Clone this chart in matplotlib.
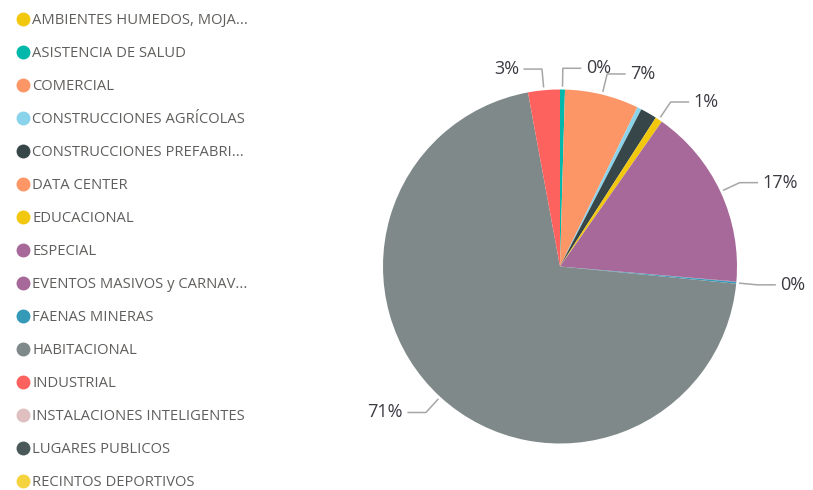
import numpy as np
import matplotlib
matplotlib.use("Agg")
import matplotlib.pyplot as plt
from matplotlib.lines import Line2D

plt.rcParams['font.family'] = ['Open Sans', 'DejaVu Sans']

# categories shown in the legend (alphabetical, as in the report)
categories = [
    "AMBIENTES HUMEDOS, MOJA...",
    "ASISTENCIA DE SALUD",
    "COMERCIAL",
    "CONSTRUCCIONES AGRÍCOLAS",
    "CONSTRUCCIONES PREFABRI...",
    "DATA CENTER",
    "EDUCACIONAL",
    "ESPECIAL",
    "EVENTOS MASIVOS y CARNAV...",
    "FAENAS MINERAS",
    "HABITACIONAL",
    "INDUSTRIAL",
    "INSTALACIONES INTELIGENTES",
    "LUGARES PUBLICOS",
    "RECINTOS DEPORTIVOS",
]
# share of projects per category, in percent
shares = [0.0, 0.45, 6.75, 0.4, 1.5, 0.0, 0.65, 16.6, 0.05, 0.15, 70.55, 2.9, 0.0, 0.0, 0.0]
# which slices get a data label
show_label = [False, True, True, False, False, False, True, True, False, True, True, True, False, False, False]
colors = [
    "#F2C80F", "#01B8AA", "#FD9666", "#8AD4EB", "#374649",
    "#FE9666", "#F2C80F", "#A66999", "#A66999", "#3599B8",
    "#7F898A", "#FD625E", "#DFBFBF", "#4A5859", "#F5D33F",
]

W, H = 813, 490
fig = plt.figure(figsize=(W / 100, H / 100), dpi=100)

# pie placed by its centre and radius in pixels
cx, cy, r = 560, 266.5, 177
lim = 1.4
side = 2 * lim * r
ax = fig.add_axes([(cx - side / 2) / W, (H - cy - side / 2) / H, side / W, side / H])

wedges, _ = ax.pie(shares, colors=colors, startangle=90, counterclock=False,
                   wedgeprops=dict(linewidth=0))
ax.set_xlim(-lim, lim)
ax.set_ylim(-lim, lim)
ax.set_aspect('equal')
ax.axis('off')

# data labels with elbow leader lines
line_col = "#A6A6A6"
cum = np.cumsum(shares) - np.array(shares) / 2
for val, mid, show in zip(shares, cum, show_label):
    if not show:
        continue
    theta = np.deg2rad(90 - 360 * mid / 100)
    x0, y0 = 1.02 * np.cos(theta), 1.02 * np.sin(theta)
    x1, y1 = 1.12 * np.cos(theta), 1.12 * np.sin(theta)
    side_dir = 1 if np.cos(theta) >= -0.01 else -1
    x2 = x1 + side_dir * 0.1
    ax.plot([x0, x1, x2], [y0, y1, y1], color=line_col, lw=1.1, clip_on=False)
    ax.text(x2 + side_dir * 0.03, y1, f"{val:.0f}%",
            ha='left' if side_dir > 0 else 'right', va='center',
            fontsize=13, color="#3A3A42", clip_on=False)

# legend drawn as a column of dots and names
row_h = 33.0
for i, (name, col) in enumerate(zip(categories, colors)):
    y_px = 19 + i * row_h
    fig.add_artist(Line2D([22.5 / W], [1 - y_px / H], marker='o', markersize=9,
                          color=col, linestyle='none', transform=fig.transFigure))
    fig.text(32 / W, 1 - (y_px + 5) / H, name, ha='left', va='baseline',
             fontsize=10.6, color="#605E5C")

fig.savefig("out.png", dpi=100)
